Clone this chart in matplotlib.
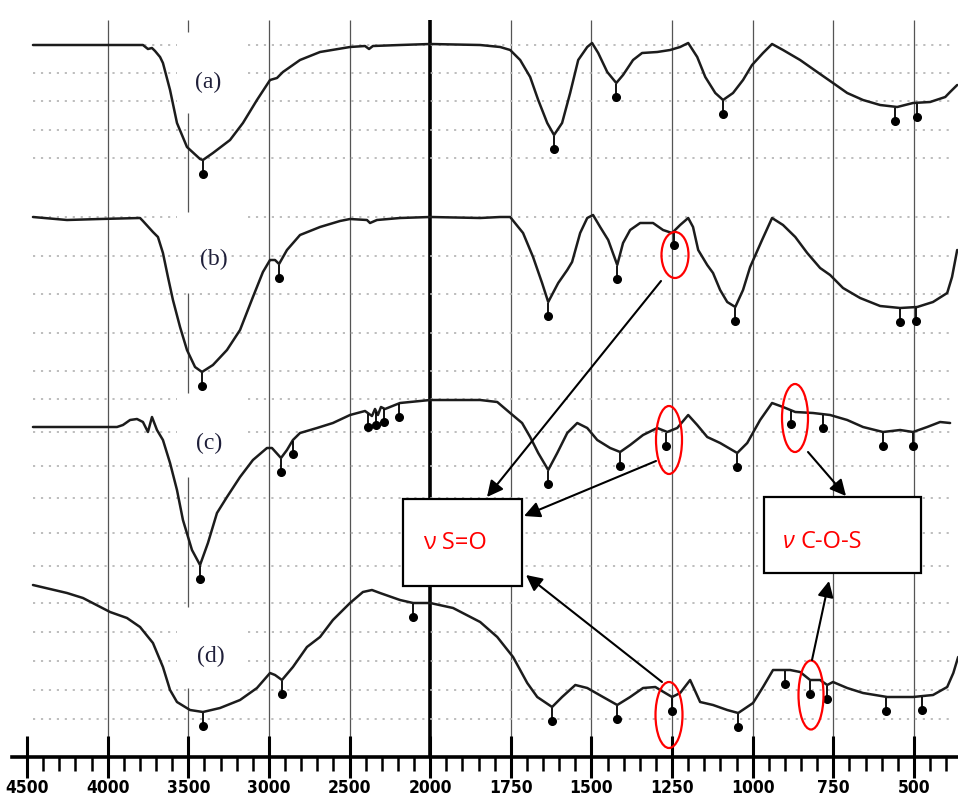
import numpy as np
import matplotlib
matplotlib.use("Agg")
import matplotlib.pyplot as plt
from matplotlib import font_manager as fm
from matplotlib.patches import Ellipse, Rectangle
from matplotlib.transforms import Affine2D

# ---------------- data (wavenumber cm-1, offset transmittance, arb.) ----------------
a_wn = [4463, 3781, 3750, 3725, 3706, 3675, 3657, 3613, 3570, 3508, 3427, 3409, 3347, 3241,
        3161, 3074, 2993, 2950, 2913, 2807, 2683, 2497, 2404, 2379, 2355, 2187, 2000, 1845,
        1783, 1752, 1721, 1690, 1665, 1637, 1616, 1591, 1566, 1541, 1513, 1498, 1479, 1451,
        1423, 1402, 1371, 1343, 1296, 1256, 1225, 1200, 1172, 1147, 1116, 1092, 1061, 1030,
        1002, 968, 940, 906, 853, 800, 751, 707, 658, 605, 552, 503, 450, 403, 388, 366]
a_val = [712, 712, 708, 709, 706, 700, 694, 667, 634, 610, 598, 597, 604, 617,
         634, 657, 677, 679, 685, 697, 705, 710, 711, 708, 711, 712, 713, 712,
         710, 707, 697, 680, 657, 634, 622, 634, 664, 697, 710, 714, 704, 685,
         674, 682, 697, 704, 705, 707, 710, 714, 700, 680, 664, 657, 664, 677,
         692, 704, 713, 707, 697, 685, 674, 664, 657, 652, 650, 654, 655, 660, 665, 672]

b_wn = [4463, 4252, 4047, 3799, 3781, 3719, 3688, 3657, 3626, 3595, 3551, 3508, 3458, 3415,
        3347, 3260, 3179, 3099, 3037, 2993, 2962, 2937, 2888, 2807, 2683, 2559, 2497, 2392,
        2373, 2330, 2187, 2000, 1845, 1783, 1752, 1712, 1681, 1653, 1634, 1603, 1575, 1560,
        1535, 1513, 1495, 1473, 1448, 1420, 1402, 1380, 1349, 1309, 1278, 1250, 1225, 1200,
        1185, 1169, 1141, 1123, 1101, 1079, 1054, 1030, 1008, 971, 940, 906, 868, 831, 791,
        760, 720, 667, 605, 543, 490, 441, 397, 382, 366]
b_val = [540, 537, 538, 539, 536, 525, 520, 504, 480, 457, 430, 407, 390, 385,
         392, 407, 427, 460, 485, 497, 497, 493, 507, 522, 530, 536, 538, 537,
         534, 537, 539, 540, 539, 540, 540, 524, 500, 474, 455, 474, 487, 495,
         524, 539, 542, 530, 517, 492, 514, 527, 534, 534, 527, 524, 532, 539,
         530, 507, 492, 484, 467, 455, 450, 467, 490, 517, 539, 532, 520, 504, 489,
         482, 469, 459, 451, 449, 450, 455, 464, 480, 507]

c_wn = [4463, 3942, 3905, 3861, 3818, 3781, 3750, 3725, 3694, 3657, 3613, 3570, 3533, 3477,
        3427, 3378, 3322, 3260, 3179, 3099, 3012, 2981, 2925, 2888, 2851, 2807, 2702, 2603,
        2497, 2404, 2361, 2342, 2324, 2305, 2280, 2187, 2000, 1845, 1792, 1752, 1715, 1690,
        1665, 1634, 1606, 1575, 1544, 1513, 1482, 1442, 1411, 1380, 1340, 1296, 1265, 1234,
        1200, 1172, 1141, 1101, 1048, 1017, 977, 940, 906, 868, 813, 760, 707, 658, 596,
        543, 503, 459, 419, 388]
c_val = [330, 330, 332, 337, 338, 335, 325, 340, 327, 317, 294, 267, 237, 207,
         192, 214, 244, 260, 280, 297, 309, 309, 299, 307, 317, 324, 329, 334,
         342, 346, 341, 348, 342, 350, 348, 354, 357, 357, 355, 344, 334, 320,
         304, 287, 304, 324, 334, 329, 317, 309, 305, 312, 322, 329, 325, 329,
         342, 332, 320, 314, 304, 314, 337, 354, 350, 345, 344, 342, 337, 330, 325,
         327, 325, 330, 335, 334]

d_wn = [4463, 4252, 4153, 3985, 3880, 3799, 3719, 3657, 3613, 3570, 3489, 3409, 3303, 3179,
        3074, 2993, 2962, 2919, 2851, 2764, 2683, 2603, 2497, 2417, 2361, 2311, 2187, 2106,
        2000, 1929, 1845, 1792, 1743, 1699, 1668, 1622, 1591, 1550, 1513, 1464, 1420, 1380,
        1340, 1302, 1271, 1250, 1225, 1194, 1163, 1123, 1079, 1045, 999, 968, 937, 884, 853,
        822, 791, 769, 751, 707, 658, 583, 503, 441, 397, 378, 363]
d_val = [172, 164, 159, 145, 139, 130, 114, 90, 67, 55, 47, 45, 49, 57,
         69, 84, 82, 77, 90, 110, 120, 137, 154, 165, 167, 164, 157, 154,
         154, 149, 135, 120, 100, 74, 60, 50, 60, 72, 69, 60, 52, 60,
         69, 70, 64, 60, 64, 77, 55, 52, 47, 44, 54, 70, 87, 87, 85,
         77, 77, 72, 75, 69, 64, 60, 60, 62, 70, 84, 100]

# marked peak positions (cm-1)
a_peaks = [3409, 1616, 1423, 1092, 558, 490]
b_peaks = [3415, 2937, 1634, 1420, 1245, 1054, 543, 493]
c_peaks = [3427, 2925, 2851, 2386, 2336, 2287, 2193, 1634, 1411, 1268, 1048, 880, 782, 596, 503]
d_peaks = [3409, 2919, 2106, 1622, 1420, 1250, 1045, 899, 822, 769, 586, 475]

series_labels = ["(a)", "(b)", "(c)", "(d)"]

major_ticks = [4500, 4000, 3500, 3000, 2500, 2000, 1750, 1500, 1250, 1000, 750, 500]
major_labels = ["4500", "4000", "3500", "3000", "2500", "2000",
                "1750", "1500", "1250", "1000", "750", "500"]
minor_ticks = [4400, 4300, 4200, 4100, 3900, 3800, 3700, 3600, 3400, 3300, 3200, 3100,
               2900, 2800, 2700, 2600, 2400, 2300, 2200, 2100,
               1950, 1900, 1850, 1800, 1700, 1650, 1600, 1550, 1450, 1400, 1350, 1300,
               1200, 1150, 1100, 1050, 950, 900, 850, 800, 700, 650, 600, 550, 450, 400]
grid_wn = [4000, 3500, 3000, 2500, 1750, 1500, 1250, 1000, 750, 500]

# ---------------- fonts ----------------
names = {f.name for f in fm.fontManager.ttflist}


def pick_narrow_bold():
    cands = []
    for f in fm.fontManager.ttflist:
        nm = f.name
        stretch = str(f.stretch)
        narrow = ("Narrow" in nm or "Condensed" in nm or "Condensed" in f.fname
                  or stretch in ("condensed", "semi-condensed", "extra-condensed"))
        w = f.weight if isinstance(f.weight, int) else (700 if "bold" in str(f.weight).lower() else 400)
        if narrow and w >= 600 and "Oblique" not in f.fname and "Italic" not in f.fname:
            cands.append(f.fname)
    return cands[0] if cands else None


narrow_path = pick_narrow_bold()
if narrow_path:
    tick_fp = fm.FontProperties(fname=narrow_path, size=12.5)
else:
    tick_fp = fm.FontProperties(family="Liberation Sans" if "Liberation Sans" in names else "DejaVu Sans",
                                weight="bold", size=11.5)
box_family = "Open Sans" if "Open Sans" in names else "DejaVu Sans"
serif_family = "Liberation Serif" if "Liberation Serif" in names else "DejaVu Serif"

# ---------------- figure ----------------
W, H = 958, 799
fig = plt.figure(figsize=(W / 100, H / 100), dpi=100)
fig.patch.set_facecolor("white")
ax = fig.add_axes([0, 42 / H, 1, 757 / H])


def fwd(w):
    w = np.asarray(w, dtype=float)
    return np.where(w >= 2000, w, 2 * w - 2000)


def inv(u):
    u = np.asarray(u, dtype=float)
    return np.where(u >= 2000, u, (u + 2000) / 2)


ax.set_xscale("function", functions=(fwd, inv))
ax.set_xlim(4667.4, 363.5)
ax.set_ylim(0, 757)

for s in ["top", "left", "right"]:
    ax.spines[s].set_visible(False)
ax.spines["bottom"].set_linewidth(2.6)
ax.spines["bottom"].set_bounds(4593, 363.5)
ax.set_yticks([])
ax.set_xticks(major_ticks)
ax.set_xticklabels(major_labels)
ax.set_xticks(minor_ticks, minor=True)
ax.tick_params(axis="x", which="major", direction="inout", length=30, width=2.2, pad=1)
ax.tick_params(axis="x", which="minor", direction="out", length=10, width=1.8)
for lab in ax.get_xticklabels():
    lab.set_fontproperties(tick_fp)

# pixel (top-left origin) transform for the annotation layer
PX = Affine2D().scale(1, -1).translate(0, H)

# vertical grid
ax.vlines([g for g in grid_wn if g != 3500], 5, 737, color="#555555", lw=0.9, zorder=1)
for y0, y1 in [(725, 737), (545, 644), (364, 464), (150, 280), (12, 69)]:
    ax.vlines(3500, y0, y1, color="#555555", lw=0.9, zorder=1)
ax.vlines(2000, 0, 737, color="black", lw=2.6, zorder=1)

# horizontal dotted guide lines
guide_y = [712, 684, 656, 627, 599, 540, 501, 463, 424, 386,
           358, 325, 291, 259, 224, 191, 154, 125, 96, 67, 38]
guide_gap = {712, 684, 656, 540, 358, 325, 125, 96}
dot_style = dict(color="#b8b8b8", lw=1.3, linestyles=(0, (1.2, 3.2)), zorder=1)
for gy in guide_y:
    if gy in guide_gap:
        ax.hlines(gy, 4463, 3570, **dot_style)
        ax.hlines(gy, 3130, 388, **dot_style)
    else:
        ax.hlines(gy, 4463, 388, **dot_style)

# spectra + peak markers
spectra = [(a_wn, a_val, a_peaks), (b_wn, b_val, b_peaks),
           (c_wn, c_val, c_peaks), (d_wn, d_val, d_peaks)]
for wn, val, peaks in spectra:
    ax.plot(wn, val, color="#1c1c1c", lw=1.8, zorder=3, solid_joinstyle="round",
            solid_capstyle="round")
    wn_r = np.array(wn[::-1], dtype=float)
    val_r = np.array(val[::-1], dtype=float)
    pv = np.interp(peaks, wn_r, val_r)
    ax.vlines(peaks, pv - 14, pv - 1, color="black", lw=1.3, zorder=3)
    ax.plot(peaks, pv - 14, ls="none", marker="o", ms=5.5, color="black", zorder=3)

# series labels
label_pos = [(208, 82), (214, 259), (209, 443), (211, 656)]
for (lx, ly), lab in zip(label_pos, series_labels):
    ax.text(lx, ly, lab, transform=PX, ha="center", va="center", fontsize=17,
            family=serif_family, color="#1f1f3a", zorder=4)

# red ellipses
for cx, cy, ew, eh in [(675, 255, 27, 46), (669, 440, 26, 68), (795, 418, 26, 68),
                       (669, 715, 27, 66), (811, 695, 25, 69)]:
    ax.add_patch(Ellipse((cx, cy), ew, eh, transform=PX, fill=False, ec="red", lw=1.6,
                         zorder=6))

# boxes
ax.add_patch(Rectangle((403, 499), 119, 87, transform=PX, fc="white", ec="black", lw=1.6,
                       zorder=5))
ax.add_patch(Rectangle((764, 497), 157, 76, transform=PX, fc="white", ec="black", lw=1.6,
                       zorder=5))
ax.text(455, 543, "ν S=O", transform=PX, ha="center", va="center", fontsize=17,
        family=box_family, color="red", zorder=7)
ax.text(783, 542, "ν", transform=PX, ha="left", va="center", fontsize=17,
        family=box_family, style="italic", color="red", zorder=7)
ax.text(800, 542, "C-O-S", transform=PX, ha="left", va="center", fontsize=17,
        family=box_family, color="red", zorder=7)

# arrows
for tail, head in [((661, 281), (487, 497)), ((656, 461), (524, 516)),
                   ((662, 682), (526, 575)), ((808, 452), (846, 496)),
                   ((812, 660), (829, 581))]:
    ax.annotate("", xy=head, xytext=tail, xycoords=PX, textcoords=PX,
                arrowprops=dict(arrowstyle="-|>", color="black", lw=1.5,
                                mutation_scale=24, shrinkA=0, shrinkB=0),
                zorder=8)

fig.savefig("out.png", dpi=100)
